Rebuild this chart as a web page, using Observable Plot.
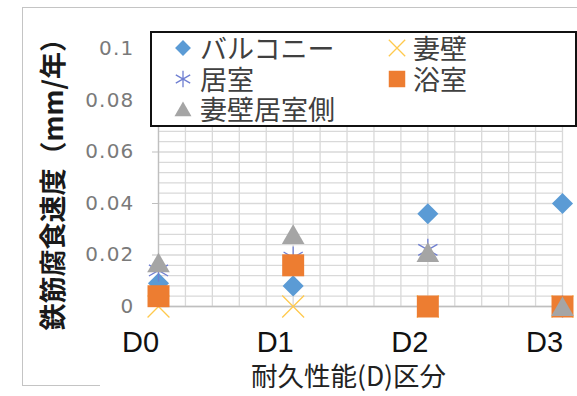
<!DOCTYPE html>
<html><head><meta charset="utf-8">
<script src="https://cdn.jsdelivr.net/npm/d3@7"></script>
<script src="https://cdn.jsdelivr.net/npm/@observablehq/plot@0.6"></script>
<style>
body{margin:0;background:#fff;}
#wrap{position:relative;width:577px;height:396px;overflow:hidden;background:#fff;}
#wrap svg{position:absolute;left:0;top:0;}
.frame{position:absolute;left:22px;top:7px;width:620px;height:378px;border-top:1px solid #c4c4c4;border-left:1px solid #c4c4c4;}
.frameb{position:absolute;left:22px;top:385px;width:78px;height:1px;background:#c4c4c4;}
#legend{position:absolute;left:150px;top:31px;width:427px;height:96px;box-sizing:border-box;border:2px solid #111;background:#fff;}
#legend .sw{position:absolute;width:30px;height:30px;}
#legend .lt{position:absolute;font-family:"Noto Sans CJK JP","Noto Sans CJK SC",sans-serif;font-size:27px;line-height:28px;height:28px;color:#404040;white-space:nowrap;}
</style></head><body><div id="wrap"></div>
<script>
const categories = ["D0", "D1", "D2", "D3"];
const seriesNames = ["バルコニー", "妻壁", "居室", "浴室", "妻壁居室側"];
const balcony = [0.009, 0.008, 0.036, 0.040];
const tsumakabe = [0, 0, 0, 0];
const kyoshitsu = [0.014, 0.019, 0.022, 0];
const yokushitsu = [0.004, 0.016, 0, 0];
const tsumakabeKyoshitsu = [0.017, 0.028, 0.021, 0];
const yTicks = [0, 0.02, 0.04, 0.06, 0.08, 0.1];
const yTickLabels = ["0", "0.02", "0.04", "0.06", "0.08", "0.1"];
const xTitle = "耐久性能(D)区分";
const yTitle = "鉄筋腐食速度（mm/年）";

const seriesValues = [balcony, tsumakabe, kyoshitsu, yokushitsu, tsumakabeKyoshitsu];
const styles = [
  {symbol: "diamond2", d3sym: d3.symbolDiamond2, fill: "#5B9BD5", stroke: "none", r: 9.5, dy: 0},
  {symbol: "times", d3sym: d3.symbolTimes, fill: "none", stroke: "#FFC94D", strokeWidth: 1.3, r: 10, dy: 0},
  {symbol: "asterisk", d3sym: d3.symbolAsterisk, fill: "none", stroke: "#6F7FD2", strokeWidth: 1.3, r: 10.5, dy: 0},
  {symbol: "square", d3sym: d3.symbolSquare, fill: "#ED7D31", stroke: "none", r: 12.4, dy: 0},
  {symbol: "triangle", d3sym: d3.symbolTriangle, fill: "#A5A5A5", stroke: "none", r: 8.4, dy: 3}
];

const gridStyle = {stroke: "#d9d9d9", strokeOpacity: 1, strokeWidth: 1.3};
const dots = seriesValues.map((vals, k) => {
  const s = styles[k];
  return Plot.dot(vals.map((v, i) => ({x: i, y: v, name: seriesNames[k]})), {
    x: "x", y: "y", symbol: s.symbol, r: s.r, fill: s.fill, stroke: s.stroke,
    strokeWidth: s.strokeWidth || 1, dy: s.dy
  });
});

const cjk = "Noto Sans CJK JP, Noto Sans CJK SC, sans-serif";
const chart = Plot.plot({
  width: 577, height: 396,
  marginLeft: 158, marginRight: 15, marginTop: 48.5, marginBottom: 90,
  style: {fontFamily: "Liberation Sans, Arial, sans-serif", background: "transparent", overflow: "visible"},
  x: {domain: [0, 3]},
  y: {domain: [0, 0.1]},
  marks: [
    Plot.gridX(d3.range(0, 3.0001, 0.2), gridStyle),
    Plot.gridY(d3.range(0, 0.1001, 0.004), gridStyle),
    Plot.ruleX([0], {stroke: "#bfbfbf", strokeWidth: 1.3}),
    Plot.ruleY([0], {stroke: "#bfbfbf", strokeWidth: 1.3}),
    Plot.axisY({ticks: yTicks, tickFormat: d => yTickLabels[yTicks.indexOf(d)], tickSize: 6, tickPadding: 18,
      stroke: "#bfbfbf", fill: "#7a7a7a", fontSize: 20, fontFamily: "DejaVu Sans, sans-serif", label: null}),
    Plot.axisX({ticks: [0, 1, 2, 3], tickFormat: d => categories[d], tickSize: 0, tickPadding: 25,
      fontSize: 29, fill: "#111", dx: -18, label: null}),
    ...dots,
    Plot.text([yTitle], {text: d => d, frameAnchor: "left", dx: -104, dy: 0, rotate: -90, textAnchor: "middle",
      lineAnchor: "middle", fontSize: 27, fontWeight: "bold", fill: "#1a1a1a", fontFamily: cjk}),
    Plot.text([xTitle], {text: d => d, frameAnchor: "bottom", dx: -12, dy: 71, textAnchor: "middle",
      lineAnchor: "middle", fontSize: 26.5, fill: "#222", fontFamily: cjk})
  ]
});
const wrap = document.getElementById("wrap");
wrap.appendChild(chart);
chart.querySelectorAll('[aria-label="y-axis tick label"] text').forEach(t => t.setAttribute("letter-spacing", "1.2"));

const fr = document.createElement("div"); fr.className = "frame"; wrap.appendChild(fr);
const fb = document.createElement("div"); fb.className = "frameb"; wrap.appendChild(fb);

// legend
const legend = document.createElement("div"); legend.id = "legend"; wrap.appendChild(legend);
const cols = [{mx: 31, tx: 48}, {mx: 245, tx: 261}];
const rowsY = [15, 46, 76];
const slots = [[0, 0], [1, 0], [0, 1], [1, 1], [0, 2]];
seriesNames.forEach((name, k) => {
  const s = styles[k];
  const [c, r] = slots[k];
  const cx = cols[c].mx, cy = rowsY[r];
  const sz = Math.PI * (s.r * 0.75) ** 2;
  const path = d3.symbol(s.d3sym, sz)();
  const sw = document.createElement("div"); sw.className = "sw";
  sw.style.left = (cx - 15) + "px"; sw.style.top = (cy - 15) + "px";
  sw.innerHTML = `<svg width="30" height="30"><path transform="translate(15,${15 + s.dy * 0.75})" d="${path}" fill="${s.fill}" stroke="${s.stroke}" stroke-width="${s.strokeWidth || 1}"/></svg>`;
  legend.appendChild(sw);
  const lt = document.createElement("div"); lt.className = "lt";
  lt.style.left = cols[c].tx + "px"; lt.style.top = (cy - 14) + "px";
  lt.textContent = name;
  legend.appendChild(lt);
});
</script>
</body></html>
